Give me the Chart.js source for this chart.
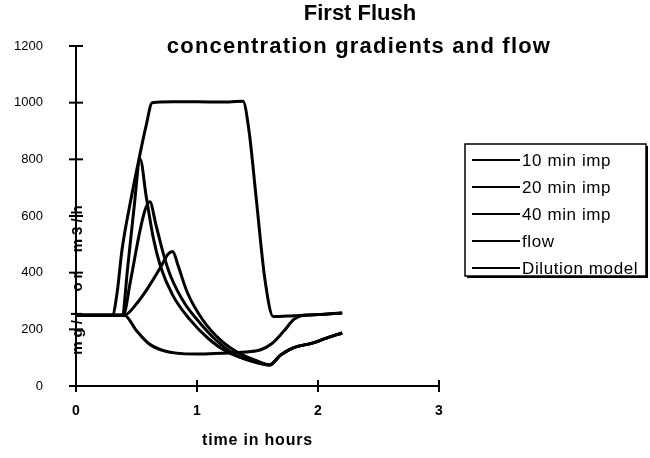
<!DOCTYPE html>
<html lang="en">
<head>
  <meta charset="UTF-8">
  <title>First Flush</title>
  <style>
    html, body {
      margin: 0;
      padding: 0;
      background: #fff;
    }
    canvas {
      display: block;
    }
  </style>
</head>
<body>

<canvas id="flushChart" width="650" height="458"></canvas>

<script src="https://cdn.jsdelivr.net/npm/chart.js"></script>
<script>
  // series names, in legend order
  const seriesNames = ['10 min imp', '20 min imp', '40 min imp', 'flow', 'Dilution model'];

  // time in hours / value (mg/l or m3/h)
  const imp10Time = [0, 0.38, 0.43, 0.48, 0.53, 0.58, 0.64, 0.70, 0.80, 0.94, 1.10, 1.25, 1.40, 1.52, 1.60, 1.69, 1.79, 1.96, 2.07, 2.20];
  const imp10Val  = [250, 250, 430, 630, 800, 670, 520, 420, 320, 235, 165, 120, 95, 81, 74, 109, 134, 152, 169, 187];

  const imp20Time = [0, 0.39, 0.45, 0.52, 0.57, 0.61, 0.66, 0.72, 0.78, 0.90, 1.00, 1.15, 1.30, 1.45, 1.60, 1.69, 1.79, 1.96, 2.07, 2.20];
  const imp20Val  = [250, 250, 370, 530, 620, 650, 570, 470, 390, 290, 235, 165, 115, 88, 74, 109, 134, 152, 169, 187];

  const imp40Time = [0, 0.40, 0.50, 0.60, 0.70, 0.76, 0.80, 0.84, 0.92, 1.05, 1.20, 1.35, 1.50, 1.60, 1.69, 1.79, 1.96, 2.07, 2.20];
  const imp40Val  = [250, 250, 290, 350, 420, 465, 475, 430, 330, 232, 160, 115, 88, 75, 109, 134, 152, 169, 187];

  const flowTime = [0, 0.30, 0.34, 0.38, 0.45, 0.52, 0.58, 0.63, 0.80, 1.00, 1.20, 1.38, 1.43, 1.49, 1.56, 1.63, 1.80, 2.00, 2.20];
  const flowVal  = [250, 250, 330, 480, 650, 800, 920, 1000, 1003, 1003, 1002, 1005, 900, 660, 380, 245, 248, 252, 258];

  const dilutionTime = [0, 0.40, 0.50, 0.60, 0.70, 0.83, 1.00, 1.20, 1.40, 1.52, 1.62, 1.72, 1.80, 1.88, 2.00, 2.20];
  const dilutionVal  = [250, 250, 195, 150, 128, 116, 113, 116, 120, 127, 150, 195, 235, 250, 252, 258];

  const xTicks = [0, 1, 2, 3];
  const yTicks = [0, 200, 400, 600, 800, 1000, 1200];

  const FONT = "'Liberation Sans', Arial, Helvetica, sans-serif";

  function toPoints(times, vals) {
    return times.map((t, i) => ({ x: t, y: vals[i] }));
  }

  const seriesData = [
    toPoints(imp10Time, imp10Val),
    toPoints(imp20Time, imp20Val),
    toPoints(imp40Time, imp40Val),
    toPoints(flowTime, flowVal),
    toPoints(dilutionTime, dilutionVal)
  ];

  // title, legend box, crossing tick marks, axis titles
  const decorPlugin = {
    id: 'decor',
    afterDraw(chart) {
      const ctx = chart.ctx;
      const xs = chart.scales.x;
      const ys = chart.scales.y;
      const area = chart.chartArea;

      ctx.save();
      ctx.strokeStyle = '#000';
      ctx.fillStyle = '#000';
      ctx.lineWidth = 2;

      // tick marks crossing the axes
      yTicks.forEach(v => {
        const py = ys.getPixelForValue(v);
        ctx.beginPath();
        ctx.moveTo(area.left - 7, py);
        ctx.lineTo(area.left + 7, py);
        ctx.stroke();
      });
      xTicks.forEach(v => {
        const px = xs.getPixelForValue(v);
        ctx.beginPath();
        ctx.moveTo(px, area.bottom - 6);
        ctx.lineTo(px, area.bottom + 6);
        ctx.stroke();
      });

      // title
      ctx.textAlign = 'center';
      ctx.textBaseline = 'middle';
      ctx.font = 'bold 22px ' + FONT;
      ctx.fillText('First Flush', 360, 14);
      ctx.letterSpacing = '1.2px';
      ctx.fillText('concentration gradients and flow', 359, 47);

      // x title
      ctx.font = 'bold 16px ' + FONT;
      ctx.letterSpacing = '0.8px';
      ctx.fillText('time in hours', (area.left + area.right) / 2, 441);

      // y title drawn over the axis line
      ctx.save();
      ctx.translate(area.left + 2, 278);
      ctx.rotate(-Math.PI / 2);
      ctx.font = 'bold 15px ' + FONT;
      ctx.letterSpacing = '4px';
      ctx.fillText('mg/l  or  m3/h', 0, 0);
      ctx.restore();

      // legend box with drop shadow
      const bx = 465, by = 144, bw = 181, bh = 132;
      ctx.letterSpacing = '0px';
      ctx.fillRect(bx + 2, by + 2, bw, bh);
      ctx.fillStyle = '#fff';
      ctx.fillRect(bx, by, bw, bh);
      ctx.lineWidth = 1.5;
      ctx.strokeRect(bx, by, bw, bh);

      ctx.fillStyle = '#000';
      ctx.textAlign = 'left';
      ctx.font = '17px ' + FONT;
      ctx.letterSpacing = '0.6px';
      chart.data.datasets.forEach((ds, i) => {
        const ry = 160 + i * 27;
        ctx.lineWidth = 2;
        ctx.beginPath();
        ctx.moveTo(472, ry);
        ctx.lineTo(520, ry);
        ctx.stroke();
        ctx.fillText(ds.label, 522, ry + 1);
      });
      ctx.restore();
    }
  };

  const ctx = document.getElementById('flushChart').getContext('2d');
  const chart = new Chart(ctx, {
    type: 'line',
    data: {
      datasets: seriesNames.map((name, i) => ({
        label: name,
        data: seriesData[i],
        borderColor: '#000',
        backgroundColor: '#000',
        borderWidth: 3,
        pointRadius: 0,
        fill: false,
        cubicInterpolationMode: 'monotone'
      }))
    },
    options: {
      responsive: false,
      animation: false,
      devicePixelRatio: 1,
      layout: {
        padding: { top: 46, right: 211, left: 0, bottom: 0 }
      },
      plugins: {
        legend: { display: false },
        title: { display: false },
        tooltip: { enabled: false }
      },
      scales: {
        x: {
          type: 'linear',
          min: 0,
          max: 3,
          afterFit(scale) { scale.height = 72; },
          afterBuildTicks(scale) { scale.ticks = xTicks.map(v => ({ value: v })); },
          grid: { display: false, drawTicks: false },
          border: { display: true, color: '#000', width: 2 },
          ticks: {
            color: '#000',
            padding: 17,
            maxRotation: 0,
            font: { family: FONT, size: 14, weight: 'bold' },
            callback: v => String(v)
          }
        },
        y: {
          min: 0,
          max: 1200,
          afterFit(scale) { scale.width = 76; },
          afterBuildTicks(scale) { scale.ticks = yTicks.map(v => ({ value: v })); },
          grid: { display: false, drawTicks: false },
          border: { display: true, color: '#000', width: 2 },
          ticks: {
            color: '#000',
            padding: 33,
            font: { family: FONT, size: 13 },
            callback: v => String(v)
          }
        }
      }
    },
    plugins: [decorPlugin]
  });
</script>

</body>
</html>
